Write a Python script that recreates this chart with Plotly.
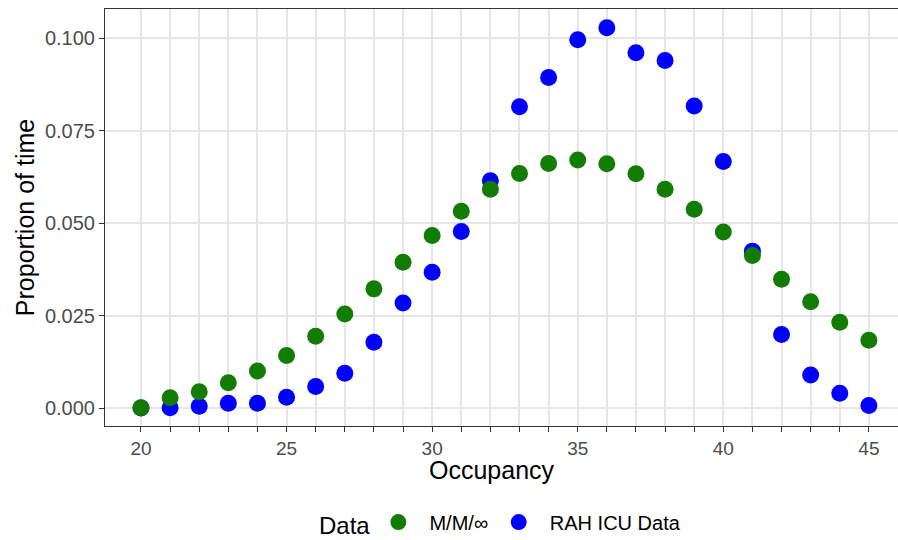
import plotly.graph_objects as go

# Occupancy levels (number of occupied beds)
occupancy = list(range(20, 46))

# Steady-state proportion of time at each occupancy: M/M/infinity model
mm_inf = [0.0001, 0.0028, 0.0044, 0.0068, 0.0100, 0.0142, 0.0194, 0.0254,
          0.0322, 0.0394, 0.0466, 0.0532, 0.0591, 0.0634, 0.0661, 0.0670,
          0.0660, 0.0633, 0.0591, 0.0537, 0.0476, 0.0412, 0.0348, 0.0287,
          0.0232, 0.0183]

# Observed proportion of time from RAH ICU data
rah_icu = [0.0000, 0.0001, 0.0005, 0.0013, 0.0013, 0.0029, 0.0058, 0.0094,
           0.0178, 0.0284, 0.0367, 0.0477, 0.0614, 0.0814, 0.0893, 0.0995,
           0.1028, 0.0960, 0.0939, 0.0816, 0.0666, 0.0424, 0.0199, 0.0089,
           0.0040, 0.0007]

x_tickvals = list(range(20, 46))
x_ticktext = [str(v) if v % 5 == 0 else "" for v in x_tickvals]
y_tickvals = [0.0, 0.025, 0.05, 0.075, 0.1]
y_ticktext = ["0.000", "0.025", "0.050", "0.075", "0.100"]

FONT = "Liberation Sans, Arial, Helvetica, sans-serif"
GREEN = "#127C04"
BLUE = "#0000FF"
PAD = "\u00a0\u00a0"  # extra gap between legend key and label

fig = go.Figure()
fig.add_trace(go.Scatter(
    x=occupancy, y=rah_icu, mode="markers", name=PAD + "RAH ICU Data",
    marker=dict(color=BLUE, size=17, line=dict(width=0)),
    legendrank=2,
))
fig.add_trace(go.Scatter(
    x=occupancy, y=mm_inf, mode="markers", name=PAD + "M/M/\u221e\u00a0",
    marker=dict(color=GREEN, size=17, line=dict(width=0)),
    legendrank=1,
))

fig.update_layout(
    width=898, height=540,
    margin=dict(l=105, r=0, t=9, b=114, autoexpand=False),
    paper_bgcolor="white", plot_bgcolor="white",
    font=dict(family=FONT, color="#000000"),
    showlegend=True,
    legend=dict(
        orientation="h", x=0.5, xanchor="center", y=-0.234, yanchor="middle",
        title=dict(text="Data", side="left", font=dict(size=24, color="#000000")),
        font=dict(size=20, color="#000000"),
        itemwidth=30, tracegroupgap=0,
    ),
    xaxis=dict(
        range=[18.764, 46.0], tickvals=x_tickvals, ticktext=x_ticktext,
        showgrid=True, gridcolor="#E6E6E6", gridwidth=1.5, zeroline=False,
        showline=True, linecolor="#333333", linewidth=1.1, mirror=True,
        ticks="outside", ticklen=5, tickwidth=1.1, tickcolor="#333333",
        tickfont=dict(size=19, color="#4D4D4D"),
    ),
    yaxis=dict(
        range=[-0.00486, 0.10784], tickvals=y_tickvals, ticktext=y_ticktext,
        showgrid=True, gridcolor="#E6E6E6", gridwidth=1.5, zeroline=False,
        showline=True, linecolor="#333333", linewidth=1.1,
        ticks="outside", ticklen=5, tickwidth=1.1, tickcolor="#333333",
        tickfont=dict(size=20, color="#4D4D4D"),
        title=dict(text="Proportion of time", font=dict(size=25, color="#000000"), standoff=3),
    ),
    annotations=[dict(
        text="Occupancy", xref="paper", yref="paper", x=0.488, y=-0.106,
        xanchor="center", yanchor="middle", showarrow=False,
        font=dict(size=25, color="#000000"),
    )],
)

fig.write_html("out.html")
